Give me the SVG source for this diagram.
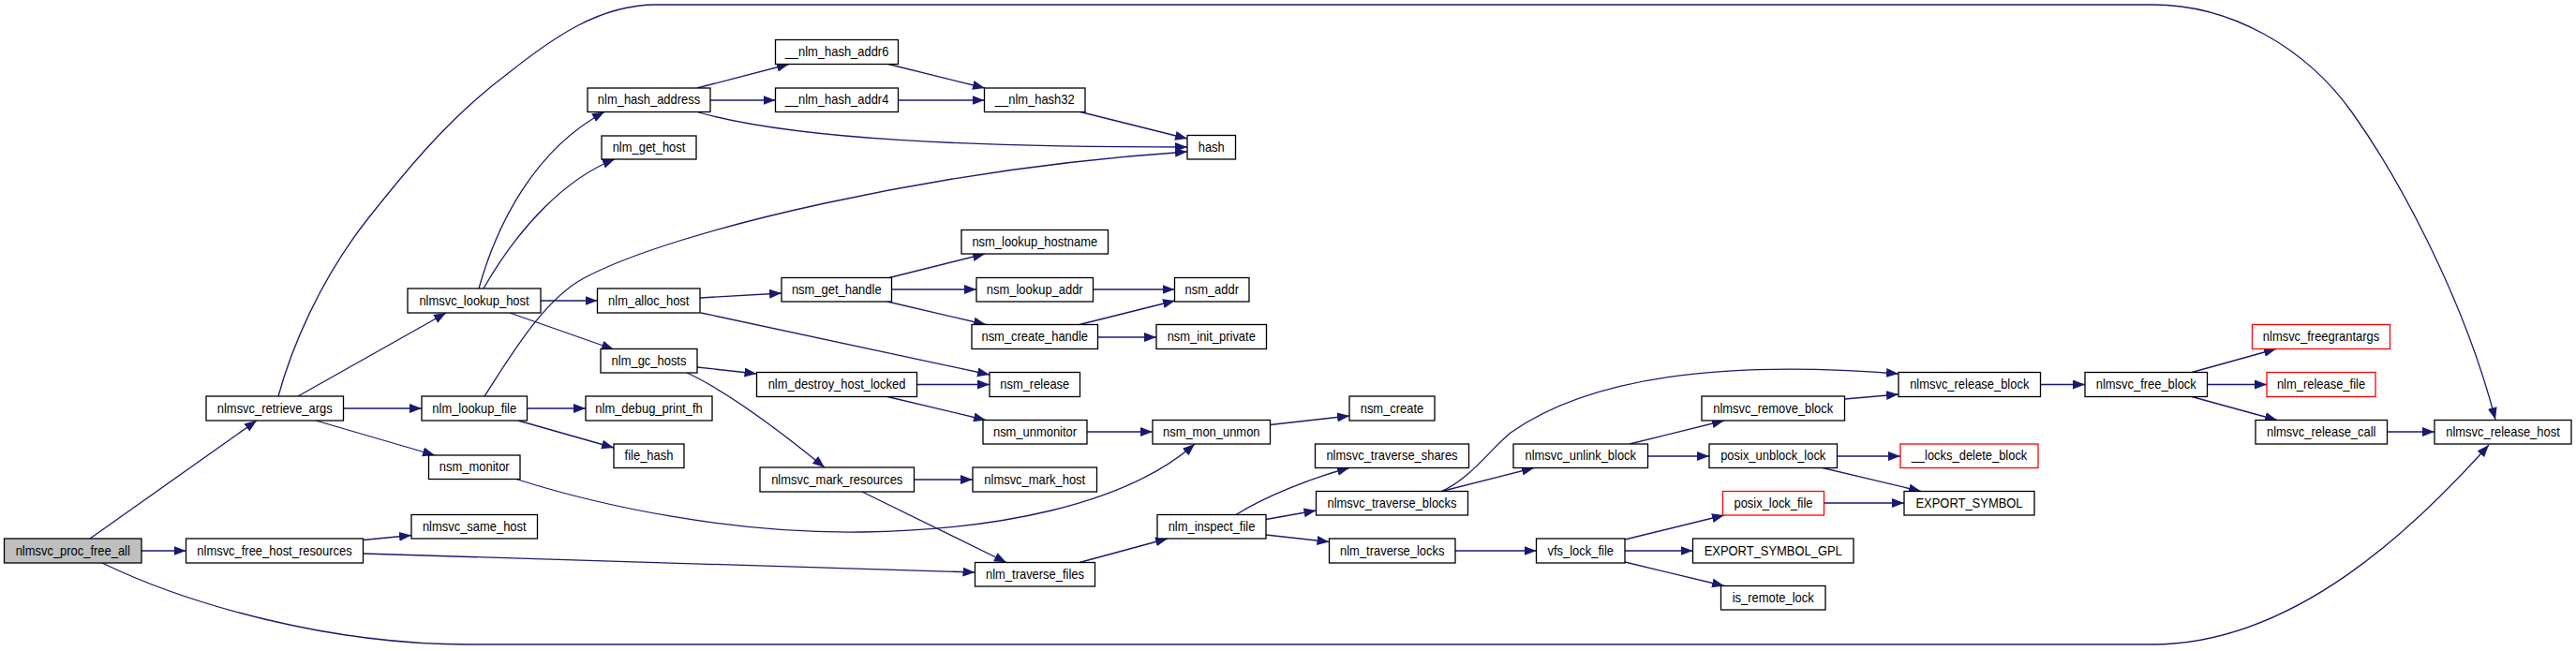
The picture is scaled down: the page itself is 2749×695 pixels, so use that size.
<svg xmlns="http://www.w3.org/2000/svg" width="2749" height="695" viewBox="0 0 2749 695">
<style>
.n rect{fill:#fff;stroke:#000;stroke-width:1.3}
.n.root rect{fill:#bfbfbf}
.n.red rect{stroke:#ff0000}
.n text{font-family:"Liberation Sans",Arial,sans-serif;font-size:14px;fill:#000;text-anchor:middle}
#edges path{fill:none;stroke:#191970;stroke-width:1.3;marker-end:url(#ah)}
</style>
<defs>
<marker id="ah" markerWidth="14" markerHeight="11" refX="13" refY="5" orient="auto" markerUnits="userSpaceOnUse">
<path d="M0,0 L13,5 L0,10 z" fill="#191970"/>
</marker>
</defs>
<rect width="2749" height="695" fill="#fff"/>
<g id="edges">
<path d="M96,575 L274,449"/>
<path d="M151,588 L198.5,588"/>
<path d="M109,601 C200,645 350,688 500,688 L2297,688 C2450,688 2580,560 2656,475"/>
<path d="M318,423 L476,334"/>
<path d="M366.5,436 L450,436"/>
<path d="M337,449 L464,486"/>
<path d="M297,423 C310,375 340,300 393,233 C435,180 480,125 540,80 C590,40 640,5 700,5 L2297,5 C2380,5 2460,50 2510,120 C2560,190 2630,320 2663,448"/>
<path d="M511,308 C530,240 570,160 645,119.5"/>
<path d="M516,308 C555,240 605,190 656,170"/>
<path d="M577,321 L637.5,321"/>
<path d="M544,334 L655,373"/>
<path d="M744,94 L842,68.5"/>
<path d="M758,107 L827.5,107"/>
<path d="M744,119.5 C850,150 1050,157 1267,157"/>
<path d="M948,68.5 L1051,94"/>
<path d="M958.5,107 L1050.5,107"/>
<path d="M1153,119.5 L1267,148"/>
<path d="M517,423 C545,380 580,320 623,297 C720,245 1000,180 1267,162"/>
<path d="M562.5,436 L625,436"/>
<path d="M553,449 L655,478"/>
<path d="M551,511.5 C640,540 780,570 920,568 C1060,566 1200,540 1275,474"/>
<path d="M747,318 L834,313"/>
<path d="M748,334 L1056,400"/>
<path d="M744,392 L807.5,399"/>
<path d="M733,398 C770,415 820,450 880,499"/>
<path d="M949,296.5 L1051,271"/>
<path d="M951.5,309 L1042,309"/>
<path d="M947,322 L1052,346.5"/>
<path d="M1166.5,309 L1253.5,309"/>
<path d="M1152,346.5 L1254,321"/>
<path d="M1171.5,360 L1234,360"/>
<path d="M978.5,410.5 L1056,410.5"/>
<path d="M947,423.5 L1052,448.5"/>
<path d="M1160,461 L1230,461"/>
<path d="M1355.5,453.5 L1440,444"/>
<path d="M975.5,512 L1038,512"/>
<path d="M920,525 L1074,600.5"/>
<path d="M387.5,576.5 L439,571.5"/>
<path d="M387.5,591 L1040.5,611"/>
<path d="M1152,600.5 L1246,575"/>
<path d="M1319,549.5 C1350,530 1400,510 1440,499.5"/>
<path d="M1351,554.5 L1404.5,545"/>
<path d="M1351,571 L1418.5,578.5"/>
<path d="M1538.5,524.5 L1637,499.5"/>
<path d="M1538.5,524.5 C1570,510 1590,480 1612,462 C1700,400 1850,385 2026,399"/>
<path d="M1739,474 L1840,449"/>
<path d="M1758.5,487 L1824,487"/>
<path d="M1968.5,426 L2026,421"/>
<path d="M1960.5,487 L2028,487"/>
<path d="M1945,499.5 L2050,524.5"/>
<path d="M1946.5,537 L2032,537"/>
<path d="M1553,588 L1639.5,588"/>
<path d="M1734,576 L1840,550"/>
<path d="M1734,588 L1806.5,588"/>
<path d="M1734,600 L1840,625.5"/>
<path d="M2177.5,410.5 L2225,410.5"/>
<path d="M2339,397.5 L2429,372.5"/>
<path d="M2355.5,410.5 L2419,410.5"/>
<path d="M2339,423.5 L2430,448.5"/>
<path d="M2547.5,461 L2598,461"/>
</g>
<g id="nlmsvc_proc_free_all" class="n root"><rect x="4.5" y="575" width="146.5" height="26"/><text transform="translate(77.75,592.5) scale(0.925,1)">nlmsvc_proc_free_all</text></g>
<g id="nlmsvc_retrieve_args" class="n"><rect x="220" y="423" width="146.5" height="26"/><text transform="translate(293.25,440.5) scale(0.925,1)">nlmsvc_retrieve_args</text></g>
<g id="nlmsvc_free_host_resources" class="n"><rect x="198.5" y="575" width="189" height="26"/><text transform="translate(293,592.5) scale(0.925,1)">nlmsvc_free_host_resources</text></g>
<g id="nlmsvc_lookup_host" class="n"><rect x="435" y="308" width="142" height="26"/><text transform="translate(506,325.5) scale(0.925,1)">nlmsvc_lookup_host</text></g>
<g id="nlm_lookup_file" class="n"><rect x="450" y="423" width="112.5" height="26"/><text transform="translate(506.25,440.5) scale(0.925,1)">nlm_lookup_file</text></g>
<g id="nsm_monitor" class="n"><rect x="457.5" y="486" width="97.5" height="25.5"/><text transform="translate(506.25,503.25) scale(0.925,1)">nsm_monitor</text></g>
<g id="nlmsvc_same_host" class="n"><rect x="439" y="549.5" width="134.5" height="25.5"/><text transform="translate(506.25,566.75) scale(0.925,1)">nlmsvc_same_host</text></g>
<g id="nlm_hash_address" class="n"><rect x="627" y="94" width="131" height="25.5"/><text transform="translate(692.5,111.25) scale(0.925,1)">nlm_hash_address</text></g>
<g id="nlm_get_host" class="n"><rect x="642" y="145" width="101" height="25"/><text transform="translate(692.5,162) scale(0.925,1)">nlm_get_host</text></g>
<g id="nlm_alloc_host" class="n"><rect x="637.5" y="308" width="109.5" height="26"/><text transform="translate(692.25,325.5) scale(0.925,1)">nlm_alloc_host</text></g>
<g id="nlm_gc_hosts" class="n"><rect x="641" y="372.5" width="103" height="25.5"/><text transform="translate(692.5,389.75) scale(0.925,1)">nlm_gc_hosts</text></g>
<g id="nlm_debug_print_fh" class="n"><rect x="625" y="423" width="135" height="26"/><text transform="translate(692.5,440.5) scale(0.925,1)">nlm_debug_print_fh</text></g>
<g id="file_hash" class="n"><rect x="655" y="474" width="75" height="25.5"/><text transform="translate(692.5,491.25) scale(0.925,1)">file_hash</text></g>
<g id="__nlm_hash_addr6" class="n"><rect x="827.5" y="42.5" width="131" height="26"/><text transform="translate(893,60) scale(0.925,1)">__nlm_hash_addr6</text></g>
<g id="__nlm_hash_addr4" class="n"><rect x="827.5" y="94" width="131" height="25.5"/><text transform="translate(893,111.25) scale(0.925,1)">__nlm_hash_addr4</text></g>
<g id="nsm_get_handle" class="n"><rect x="834" y="296.5" width="117.5" height="25.5"/><text transform="translate(892.75,313.75) scale(0.925,1)">nsm_get_handle</text></g>
<g id="nlm_destroy_host_locked" class="n"><rect x="807.5" y="397.5" width="171" height="26"/><text transform="translate(893,415) scale(0.925,1)">nlm_destroy_host_locked</text></g>
<g id="nlmsvc_mark_resources" class="n"><rect x="811" y="499" width="164.5" height="26"/><text transform="translate(893.25,516.5) scale(0.925,1)">nlmsvc_mark_resources</text></g>
<g id="__nlm_hash32" class="n"><rect x="1050.5" y="94" width="107.5" height="25.5"/><text transform="translate(1104.25,111.25) scale(0.925,1)">__nlm_hash32</text></g>
<g id="nsm_lookup_hostname" class="n"><rect x="1026" y="245.5" width="156.5" height="25.5"/><text transform="translate(1104.25,262.75) scale(0.925,1)">nsm_lookup_hostname</text></g>
<g id="nsm_lookup_addr" class="n"><rect x="1042" y="296.5" width="124.5" height="25.5"/><text transform="translate(1104.25,313.75) scale(0.925,1)">nsm_lookup_addr</text></g>
<g id="nsm_create_handle" class="n"><rect x="1037" y="346.5" width="134.5" height="26"/><text transform="translate(1104.25,364) scale(0.925,1)">nsm_create_handle</text></g>
<g id="nsm_release" class="n"><rect x="1056" y="397.5" width="96.5" height="26"/><text transform="translate(1104.25,415) scale(0.925,1)">nsm_release</text></g>
<g id="nsm_unmonitor" class="n"><rect x="1049" y="448.5" width="111" height="25.5"/><text transform="translate(1104.5,465.75) scale(0.925,1)">nsm_unmonitor</text></g>
<g id="nlmsvc_mark_host" class="n"><rect x="1038" y="499" width="132.5" height="26"/><text transform="translate(1104.25,516.5) scale(0.925,1)">nlmsvc_mark_host</text></g>
<g id="nlm_traverse_files" class="n"><rect x="1040.5" y="600.5" width="128" height="25.5"/><text transform="translate(1104.5,617.75) scale(0.925,1)">nlm_traverse_files</text></g>
<g id="hash" class="n"><rect x="1267" y="144.5" width="51.5" height="25.5"/><text transform="translate(1292.75,161.75) scale(0.925,1)">hash</text></g>
<g id="nsm_addr" class="n"><rect x="1253.5" y="296.5" width="79.5" height="25.5"/><text transform="translate(1293.25,313.75) scale(0.925,1)">nsm_addr</text></g>
<g id="nsm_init_private" class="n"><rect x="1234" y="346.5" width="117.5" height="26"/><text transform="translate(1292.75,364) scale(0.925,1)">nsm_init_private</text></g>
<g id="nsm_mon_unmon" class="n"><rect x="1230" y="448.5" width="125.5" height="25.5"/><text transform="translate(1292.75,465.75) scale(0.925,1)">nsm_mon_unmon</text></g>
<g id="nlm_inspect_file" class="n"><rect x="1235" y="549.5" width="116" height="25.5"/><text transform="translate(1293,566.75) scale(0.925,1)">nlm_inspect_file</text></g>
<g id="nsm_create" class="n"><rect x="1440" y="423" width="91" height="26"/><text transform="translate(1485.5,440.5) scale(0.925,1)">nsm_create</text></g>
<g id="nlmsvc_traverse_shares" class="n"><rect x="1403.5" y="474" width="164" height="25.5"/><text transform="translate(1485.5,491.25) scale(0.925,1)">nlmsvc_traverse_shares</text></g>
<g id="nlmsvc_traverse_blocks" class="n"><rect x="1404.5" y="524.5" width="162" height="25.5"/><text transform="translate(1485.5,541.75) scale(0.925,1)">nlmsvc_traverse_blocks</text></g>
<g id="nlm_traverse_locks" class="n"><rect x="1418.5" y="575" width="134.5" height="26"/><text transform="translate(1485.75,592.5) scale(0.925,1)">nlm_traverse_locks</text></g>
<g id="nlmsvc_unlink_block" class="n"><rect x="1615" y="474" width="143.5" height="25.5"/><text transform="translate(1686.75,491.25) scale(0.925,1)">nlmsvc_unlink_block</text></g>
<g id="vfs_lock_file" class="n"><rect x="1639.5" y="575" width="94.5" height="26"/><text transform="translate(1686.75,592.5) scale(0.925,1)">vfs_lock_file</text></g>
<g id="nlmsvc_remove_block" class="n"><rect x="1816" y="423" width="152.5" height="26"/><text transform="translate(1892.25,440.5) scale(0.925,1)">nlmsvc_remove_block</text></g>
<g id="posix_unblock_lock" class="n"><rect x="1824" y="474" width="136.5" height="25.5"/><text transform="translate(1892.25,491.25) scale(0.925,1)">posix_unblock_lock</text></g>
<g id="posix_lock_file" class="n red"><rect x="1838.5" y="524.5" width="108" height="25.5"/><text transform="translate(1892.5,541.75) scale(0.925,1)">posix_lock_file</text></g>
<g id="EXPORT_SYMBOL_GPL" class="n"><rect x="1806.5" y="575" width="171.5" height="26"/><text transform="translate(1892.25,592.5) scale(0.925,1)">EXPORT_SYMBOL_GPL</text></g>
<g id="is_remote_lock" class="n"><rect x="1836.5" y="625.5" width="111.5" height="25.5"/><text transform="translate(1892.25,642.75) scale(0.925,1)">is_remote_lock</text></g>
<g id="nlmsvc_release_block" class="n"><rect x="2026" y="397.5" width="151.5" height="26"/><text transform="translate(2101.75,415) scale(0.925,1)">nlmsvc_release_block</text></g>
<g id="__locks_delete_block" class="n red"><rect x="2028" y="474" width="147" height="25.5"/><text transform="translate(2101.5,491.25) scale(0.925,1)">__locks_delete_block</text></g>
<g id="EXPORT_SYMBOL" class="n"><rect x="2032" y="524.5" width="139" height="25.5"/><text transform="translate(2101.5,541.75) scale(0.925,1)">EXPORT_SYMBOL</text></g>
<g id="nlmsvc_free_block" class="n"><rect x="2225" y="397.5" width="130.5" height="26"/><text transform="translate(2290.25,415) scale(0.925,1)">nlmsvc_free_block</text></g>
<g id="nlmsvc_freegrantargs" class="n red"><rect x="2403.5" y="346.5" width="147" height="26"/><text transform="translate(2477,364) scale(0.925,1)">nlmsvc_freegrantargs</text></g>
<g id="nlm_release_file" class="n red"><rect x="2419" y="397.5" width="116" height="26"/><text transform="translate(2477,415) scale(0.925,1)">nlm_release_file</text></g>
<g id="nlmsvc_release_call" class="n"><rect x="2407" y="448.5" width="140.5" height="25.5"/><text transform="translate(2477.25,465.75) scale(0.925,1)">nlmsvc_release_call</text></g>
<g id="nlmsvc_release_host" class="n"><rect x="2598" y="448.5" width="146" height="25.5"/><text transform="translate(2671,465.75) scale(0.925,1)">nlmsvc_release_host</text></g>
</svg>
